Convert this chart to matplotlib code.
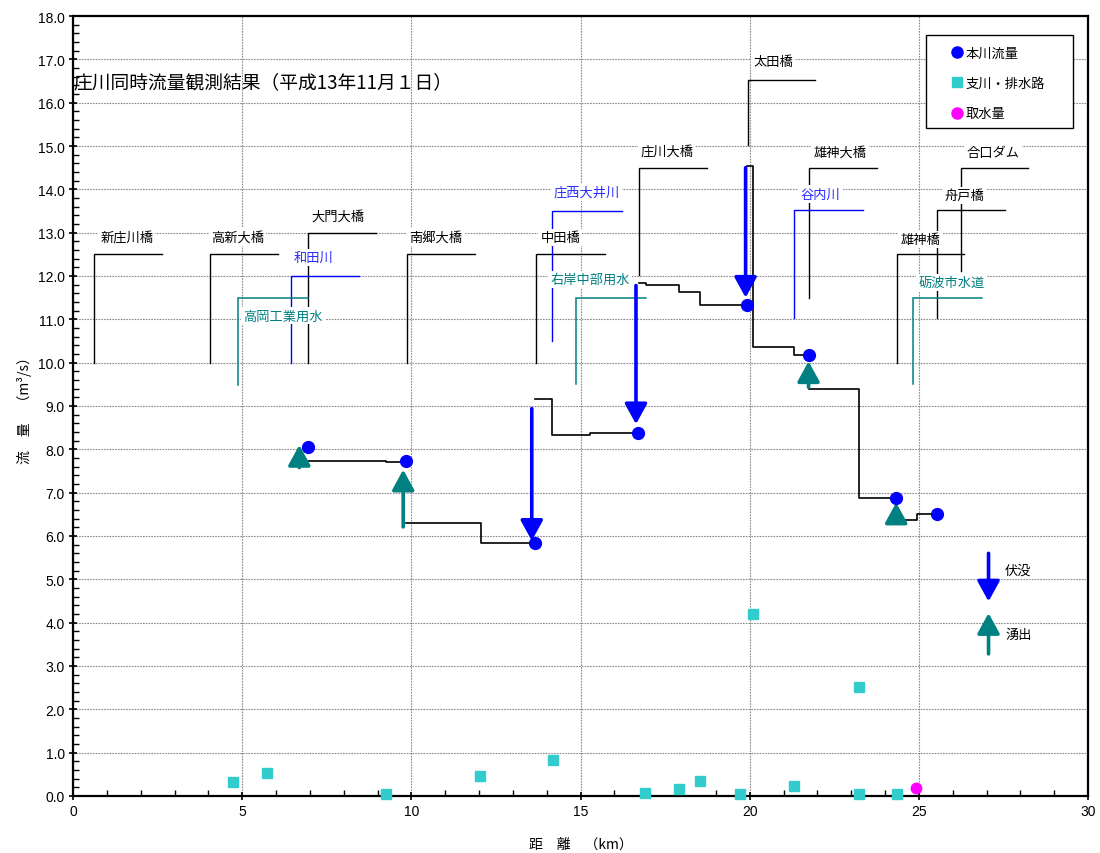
import matplotlib
matplotlib.use("Agg")
import matplotlib.pyplot as plt
from matplotlib.lines import Line2D
from matplotlib.patches import Rectangle
from matplotlib.ticker import MultipleLocator, FormatStrFormatter
import numpy as np

plt.rcParams["font.family"] = ["Noto Sans CJK JP", "DejaVu Sans"]

# ---- data -------------------------------------------------------------
# main river discharge at the observation stations (km, m3/s)
main_km = [6.94, 9.85, 13.66, 16.70, 19.91, 21.74, 24.33, 25.53]
main_q = [8.05, 7.72, 5.85, 8.38, 11.34, 10.18, 6.88, 6.51]

# tributary / drainage inflows
trib_km = [4.74, 5.74, 9.24, 12.04, 14.18, 16.91, 17.91, 18.52, 19.72,
           20.11, 21.32, 23.22, 23.22, 24.34]
trib_q = [0.33, 0.54, 0.05, 0.47, 0.82, 0.08, 0.16, 0.34, 0.04,
          4.21, 0.22, 2.52, 0.04, 0.04]

# water intake
intake_km = [24.92]
intake_q = [0.18]

# estimated discharge between stations (step traces)
step_km = [
    [6.94, 9.25, 9.25, 9.85],
    [9.85, 12.06, 12.06, 13.66],
    [13.66, 14.17, 14.17, 15.28, 15.28, 16.70],
    [16.73, 16.93, 16.93, 17.92, 17.92, 18.53, 18.53, 19.91],
    [19.91, 20.11, 20.11, 21.32, 21.32, 21.74],
    [21.74, 23.23, 23.23, 24.33],
    [24.35, 24.94, 24.94, 25.53],
]
step_q = [
    [7.73, 7.73, 7.71, 7.71],
    [6.31, 6.31, 5.84, 5.84],
    [9.16, 9.16, 8.34, 8.34, 8.37, 8.37],
    [11.83, 11.83, 11.79, 11.79, 11.64, 11.64, 11.34, 11.34],
    [14.54, 14.54, 10.37, 10.37, 10.18, 10.18],
    [9.39, 9.39, 6.88, 6.88],
    [6.38, 6.38, 6.51, 6.51],
]

# seepage losses (km, from, to) and spring gains (km, from, to)
loss_km = [13.56, 16.64, 19.88]
loss_from = [8.94, 11.78, 14.50]
loss_to = [5.89, 8.58, 11.50]
gain_km = [6.69, 9.76, 21.74, 24.33]
gain_from = [7.58, 6.21, 9.43, 6.31]
gain_to = [8.10, 7.53, 10.03, 6.77]

# station markers: name, km, leader bottom, leader top, leader end km
bridges = [
    ("新庄川橋", 0.63, 10.0, 12.5, 2.64),
    ("高新大橋", 4.04, 10.0, 12.5, 6.05),
    ("大門大橋", 6.95, 10.0, 13.0, 8.96),
    ("南郷大橋", 9.86, 10.0, 12.5, 11.87),
    ("中田橋", 13.68, 10.0, 12.5, 15.72),
    ("庄川大橋", 16.73, 12.02, 14.5, 18.73),
    ("太田橋", 19.94, 15.03, 16.52, 21.93),
    ("雄神大橋", 21.74, 11.5, 14.5, 23.76),
    ("雄神橋", 24.35, 10.0, 12.51, 26.34),
    ("舟戸橋", 25.53, 11.02, 13.52, 27.55),
    ("合口ダム", 26.24, 12.12, 14.5, 28.24),
]
tributaries = [
    ("和田川", 6.44, 10.0, 12.0, 8.45),
    ("庄西大井川", 14.17, 10.5, 13.51, 16.22),
    ("谷内川", 21.32, 11.02, 13.52, 23.34),
]
intakes = [
    ("高岡工業用水", 4.87, 9.49, 11.5, 6.95),
    ("右岸中部用水", 14.87, 9.5, 11.5, 16.93),
    ("砺波市水道", 24.84, 9.5, 11.5, 26.86),
]

# label anchor points (km, m3/s) for each station name
label_pos = {
    "新庄川橋": (1.59, 12.90), "高新大橋": (4.87, 12.90),
    "大門大橋": (7.83, 13.39), "南郷大橋": (10.73, 12.90),
    "中田橋": (14.40, 12.88), "庄川大橋": (17.55, 14.89),
    "太田橋": (20.70, 16.96), "雄神大橋": (22.67, 14.85),
    "雄神橋": (25.04, 12.85), "舟戸橋": (26.34, 13.85),
    "合口ダム": (27.20, 14.85),
    "和田川": (7.12, 12.42), "庄西大井川": (15.18, 13.93),
    "谷内川": (22.08, 13.89),
    "高岡工業用水": (6.21, 11.08), "右岸中部用水": (15.28, 11.92),
    "砺波市水道": (25.97, 11.85),
}

title = "庄川同時流量観測結果（平成13年11月１日）"
legend_labels = ["本川流量", "支川・排水路", "取水量"]

# ---- colours ------------------------------------------------------------
BLUE = "#0000FF"
TEAL = "#008080"
CYAN = "#33CCCC"
MAGENTA = "#FF00FF"
LBLUE = "#2A2AFF"

W, H = 1100, 854
fig = plt.figure(figsize=(W / 100, H / 100), dpi=100)
ax = fig.add_axes([73 / W, 57 / H, 1015 / W, 780 / H])
ax.set_xlim(0, 30)
ax.set_ylim(0, 18)

# grid
ax.set_xticks(np.arange(0, 31, 5))
ax.set_yticks(np.arange(0, 18.01, 1.0))
ax.xaxis.set_minor_locator(MultipleLocator(1))
ax.yaxis.set_minor_locator(MultipleLocator(0.2))
ax.yaxis.set_major_formatter(FormatStrFormatter("%.1f"))
ax.grid(True, which="major", color="#8c8c8c", linestyle=(0, (1.5, 1)),
        linewidth=0.8, zorder=0)
ax.set_axisbelow(True)

for s in ax.spines.values():
    s.set_color("black")
    s.set_linewidth(1.6)

ax.tick_params(axis="both", which="major", direction="inout", length=6,
               width=1.2, labelsize=10, pad=3)
ax.tick_params(axis="both", which="minor", direction="in", length=4, width=1.0)
for lab in ax.get_xticklabels() + ax.get_yticklabels():
    lab.set_fontfamily(["Liberation Sans", "DejaVu Sans"])

ax.set_xlabel("距　離　（km）", fontsize=10)
ax.set_ylabel("流　量　（m³/s）", fontsize=10)
ax.xaxis.set_label_coords(0.5, -0.052)
ax.yaxis.set_label_coords(-0.040, 0.5)


def label(name, color):
    x, y = label_pos[name]
    ax.text(x, y, name, ha="center", va="center", fontsize=9.5, color=color,
            zorder=3, bbox=dict(facecolor="white", edgecolor="none", pad=1.5))


def leader(km, y0, y1, x1, color, lw):
    ax.plot([km, km, x1], [y0, y1, y1], color=color, lw=lw, zorder=2,
            solid_joinstyle="miter")


for name, km, y0, y1, x1 in bridges:
    leader(km, y0, y1, x1, "black", 1.0)
    label(name, "black")
for name, km, y0, y1, x1 in tributaries:
    leader(km, y0, y1, x1, BLUE, 1.0)
    label(name, LBLUE)
for name, km, y0, y1, x1 in intakes:
    leader(km, y0, y1, x1, TEAL, 1.1)
    label(name, TEAL)

# step traces
for xs, ys in zip(step_km, step_q):
    ax.plot(xs, ys, color="black", lw=1.2, zorder=2)


def arrow(x, y0, y1, color):
    ax.annotate("", xy=(x, y1), xytext=(x, y0), zorder=4,
                arrowprops=dict(arrowstyle="-|>,head_length=0.62,head_width=0.34",
                                color=color, lw=2.6, shrinkA=0, shrinkB=0,
                                mutation_scale=20))


for x, a, b in zip(loss_km, loss_from, loss_to):
    arrow(x, a, b, BLUE)
for x, a, b in zip(gain_km, gain_from, gain_to):
    arrow(x, a, b, TEAL)

# arrow key
arrow(27.06, 5.60, 4.49, BLUE)
arrow(27.06, 3.28, 4.22, TEAL)
ax.text(27.55, 5.20, "伏没", ha="left", va="center", fontsize=9.5, zorder=3,
        bbox=dict(facecolor="white", edgecolor="none", pad=1.5))
ax.text(27.55, 3.72, "湧出", ha="left", va="center", fontsize=9.5, zorder=3,
        bbox=dict(facecolor="white", edgecolor="none", pad=1.5))

# markers
ax.plot(main_km, main_q, "o", color=BLUE, ms=8.5, zorder=5, clip_on=False)
ax.plot(trib_km, trib_q, "s", color=CYAN, ms=7, zorder=5, clip_on=False)
ax.plot(intake_km, intake_q, "o", color=MAGENTA, ms=7.5, zorder=5,
        clip_on=False)

ax.text(0.0, 16.48, title, ha="left", va="center", fontsize=13.5, zorder=3)

# legend: box drawn as its own frame, entries placed inside it
box_l, box_r, box_t, box_b = 926, 1073, 36, 129
ax.add_patch(Rectangle(((box_l - 73) / 1015, (797 - box_b) / 780),
                       (box_r - box_l) / 1015, (box_b - box_t) / 780,
                       transform=ax.transAxes, facecolor="white",
                       edgecolor="black", lw=1.0, zorder=6))
handles = [
    Line2D([], [], marker="o", ls="none", color=BLUE, ms=8),
    Line2D([], [], marker="s", ls="none", color=CYAN, ms=7),
    Line2D([], [], marker="o", ls="none", color=MAGENTA, ms=8),
]
leg = ax.legend(handles, legend_labels, loc="upper left",
                bbox_to_anchor=((945 - 73) / 1015, (797 - 41) / 780),
                borderaxespad=0, fontsize=9.5, frameon=False,
                labelspacing=1.32, handlelength=0.8, handletextpad=0.25,
                borderpad=0.5)
leg.set_zorder(7)

fig.savefig("out.png", dpi=100)
